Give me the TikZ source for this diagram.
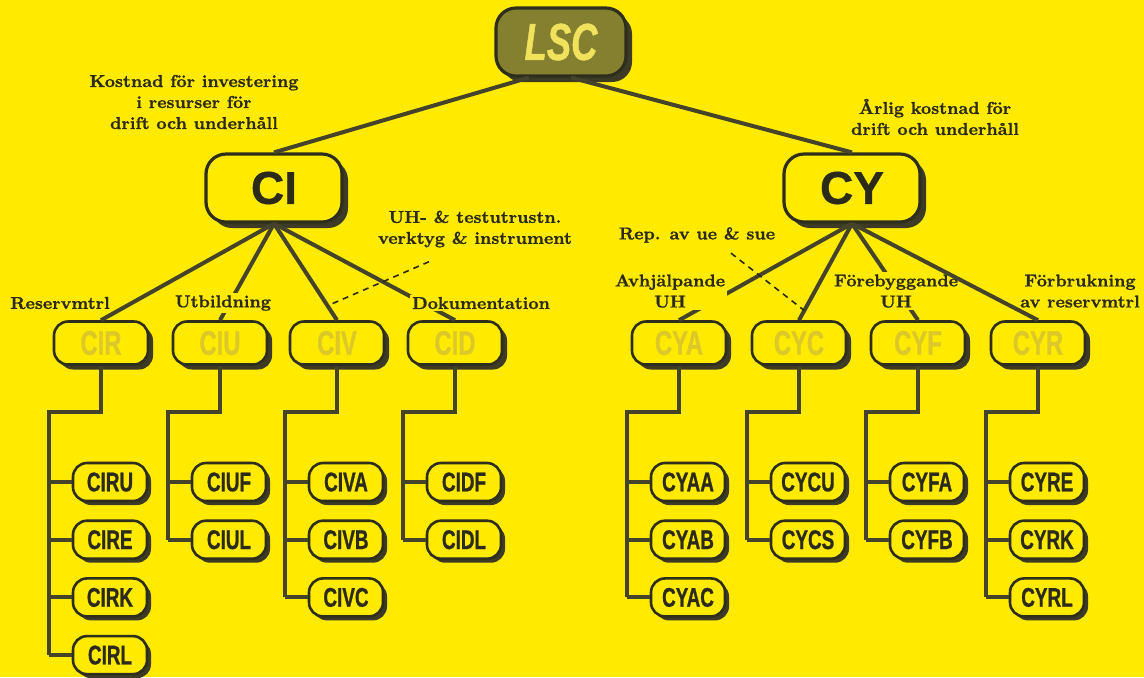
\documentclass[tikz,border=0pt]{standalone}
\usepackage{fontspec}
\setmainfont{Latin Modern Roman}[BoldFeatures={FakeBold=1}]
\newfontfamily\boxfont[FakeStretch=0.7,FakeBold=0.8]{Liberation Sans}
\newfontfamily\wideboxfont[FakeBold=0.8]{Liberation Sans}
\usepackage{tikz}
\usetikzlibrary{shadows,calc}
\definecolor{bgyellow}{HTML}{FFEA00}
\definecolor{boxline}{HTML}{2E2E1C}
\definecolor{shadowc}{HTML}{3D3B26}
\definecolor{linec}{HTML}{45442A}
\definecolor{textdark}{HTML}{2C2B1A}
\definecolor{lscfill}{HTML}{84802F}
\definecolor{lsctext}{HTML}{F0E25C}
\definecolor{faint}{HTML}{DCC828}

\begin{document}
\begin{tikzpicture}[x=0.5pt,y=-0.5pt,
  shade/.style={drop shadow={shadow xshift=#1,shadow yshift=-#1,opacity=1,fill=shadowc}},
  box/.style={draw=boxline,fill=bgyellow,text=textdark,inner sep=0pt,line width=1.3pt,rounded corners=7pt},
  lsc/.style={box,fill=lscfill,text=lsctext,minimum width=65pt,minimum height=34pt,rounded corners=10pt,line width=1.6pt,shade=3pt,font=\boxfont\bfseries\itshape\fontsize{26}{26}\selectfont},
  top/.style={box,minimum width=68pt,minimum height=34pt,rounded corners=10pt,line width=1.6pt,shade=3pt,font=\wideboxfont\bfseries\fontsize{23}{23}\selectfont},
  mid/.style={box,text=faint,minimum width=47pt,minimum height=21.5pt,shade=2.5pt,font=\boxfont\bfseries\fontsize{17}{17}\selectfont},
  leaf/.style={box,minimum width=37pt,minimum height=19pt,shade=2pt,font=\boxfont\bfseries\fontsize{13.5}{13.5}\selectfont},
  edge/.style={linec,line width=2pt},
  tree/.style={linec,line width=2pt},
  hint/.style={textdark,line width=0.8pt,dash pattern=on 3pt off 2.5pt},
  lbl/.style={fill=bgyellow,inner sep=1pt,align=center,text=textdark,font=\bfseries\fontsize{8.6}{10.5}\selectfont}]
  \useasboundingbox (0,0) rectangle (1144,677);
  \fill[bgyellow] (0,0) rectangle (1144,677);
  % top levels
  \node[lsc] (LSC) at (561,42) {LSC};
  \node[top] (CI) at (274,188) {CI};
  \node[top] (CY) at (852,188) {CY};
  % groups with their leaves
  \foreach \p/\xx/\kids/\last in {CIR/101/{CIRU,CIRE,CIRK,CIRL}/CIRL, CIU/220/{CIUF,CIUL}/CIUL,
      CIV/337/{CIVA,CIVB,CIVC}/CIVC, CID/455/{CIDF,CIDL}/CIDL, CYA/679/{CYAA,CYAB,CYAC}/CYAC,
      CYC/799/{CYCU,CYCS}/CYCS, CYF/918/{CYFA,CYFB}/CYFB, CYR/1038/{CYRE,CYRK,CYRL}/CYRL} {
    \node[mid] (\p) at (\xx,343) {\p};
    \foreach \k [count=\i] in \kids {
      \node[leaf] (\k) at (\xx+9,{482+57.7*(\i-1)}) {\k};
      \draw[tree] ([xshift=-11.5pt]\k.west) -- (\k.west);
    }
    \draw[tree] (\p.south) -- ++(0,46) -| ([xshift=-11.5pt]\last.west);
  }
  \draw[edge] ([xshift=-16pt]LSC.south) -- (CI.north);
  \draw[edge] ([xshift=5pt]LSC.south) -- (CY.north);
  \foreach \m in {CIR,CIU,CIV,CID} \draw[edge] (CI.south) -- (\m.north);
  \foreach \m in {CYA,CYC,CYF} \draw[edge] (CY.south) -- (\m.north);
  % labels
  \node[lbl] (kostnad) at (194,102) {Kostnad för investering\\i resurser för\\drift och underhåll};
  \node[lbl] (arlig) at (935,117) {Årlig kostnad för\\drift och underhåll};
  \node[lbl] (uh) at (475,229) {UH- \& testutrustn.\\verktyg \& instrument};
  \node[lbl] (rep) at (697,235) {Rep. av ue \& sue};
  \node[lbl] (reserv) at (60,303) {Reservmtrl};
  \node[lbl] (utb) at (223,303) {Utbildning};
  \node[lbl] (dok) at (481,303) {Dokumentation};
  \node[lbl] (avh) at (670,291) {Avhjälpande\\UH};
  \node[lbl] (fore) at (896,291) {Förebyggande\\UH};
  \node[lbl] (forb) at (1080,291) {Förbrukning\\av reservmtrl};
  \draw[edge] (CY.south) -- (CYR.north);
  % dashed pointers
  \path (CI.south) -- (CIV.north) coordinate[pos=0.85] (civmark);
  \path (CY.south) -- (CYC.north) coordinate[pos=0.9] (cycmark);
  \draw[hint] ([xshift=-23pt,yshift=-6pt]uh.south) -- (civmark);
  \draw[hint] ([xshift=17pt,yshift=-4pt]rep.south) -- (cycmark);
\end{tikzpicture}
\end{document}
